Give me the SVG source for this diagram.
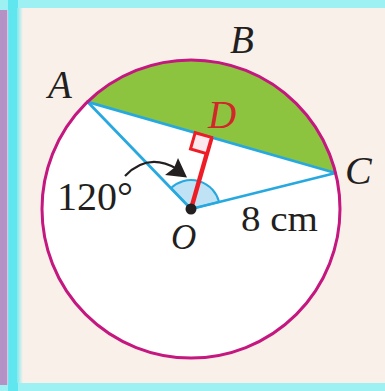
<svg xmlns="http://www.w3.org/2000/svg" width="385" height="391" viewBox="0 0 385 391">
<defs>
<linearGradient id="fade" x1="0" y1="0" x2="1" y2="0">
<stop offset="0" stop-color="#7ee9ef"/>
<stop offset="1" stop-color="#faf0ea"/>
</linearGradient>
<style>
.lbl{font-family:"Liberation Serif","Times New Roman",serif;font-style:italic;fill:#231f20}
.num{font-family:"Liberation Serif","Times New Roman",serif;fill:#231f20}
.blue{stroke:#27a9e0;stroke-width:2.8;fill:none;stroke-linecap:round}
</style>
</defs>
<rect width="385" height="391" fill="#9ef1f3"/>
<rect x="8" y="0" width="10" height="391" fill="#5fe6ee"/>
<rect x="17" y="8" width="368" height="375" fill="#faf0ea"/>
<rect x="17" y="8" width="6" height="375" fill="url(#fade)"/>
<rect x="0" y="10" width="7" height="375" fill="#b592c6"/>
<rect x="7" y="10" width="1.2" height="375" fill="#d9c6e3"/>

<g id="circle">
<circle cx="191" cy="209" r="149" fill="#ffffff"/>
</g>
<g id="segment">
<path d="M87.5,101.8 A149,149 0 0 1 335.6,173 Z" fill="#8cc43f"/>
</g>
<g id="angle">
<path d="M191,209 L219.1,202 A29,29 0 0 0 170.9,188.1 Z" fill="#bfe3f4" stroke="#27a9e0" stroke-width="2"/>
</g>
<g id="connectors">
<line class="blue" x1="191" y1="209" x2="87.5" y2="101.8"/>
<line class="blue" x1="191" y1="209" x2="335.6" y2="173"/>
<line class="blue" x1="87.5" y1="101.8" x2="335.6" y2="173"/>
<line x1="191" y1="209" x2="211.5" y2="137.4" stroke="#ee1c25" stroke-width="4.5"/>
<path d="M125,176 Q148,152 177,169" fill="none" stroke="#231f20" stroke-width="2.2"/>
<polygon points="187,177.5 178,158 174,168 165,175" fill="#231f20"/>
</g>
<g id="circle-outline">
<circle cx="191" cy="209" r="149" fill="none" stroke="#c4177f" stroke-width="3"/>
</g>
<g id="right-angle">
<polygon points="211.5,137.4 195.2,132.7 190.5,149 206.8,153.7" fill="#fbe9ee" stroke="#ee1c25" stroke-width="3"/>
</g>
<g id="O">
<circle cx="191" cy="209" r="5.5" fill="#231f20"/>
<text class="lbl" x="171" y="249" font-size="35">O</text>
</g>
<g id="A"><text class="lbl" x="48" y="98" font-size="39">A</text></g>
<g id="B"><text class="lbl" x="230" y="53" font-size="39">B</text></g>
<g id="C"><text class="lbl" x="345" y="184" font-size="40">C</text></g>
<g id="D"><text class="lbl" x="208" y="128" font-size="39" style="fill:#d1262a">D</text></g>
<g id="label-120"><text class="num" x="57" y="210" font-size="40">120°</text></g>
<g id="label-8cm"><text class="num" x="241" y="231" font-size="35" textLength="77" lengthAdjust="spacingAndGlyphs">8 cm</text></g>
</svg>
